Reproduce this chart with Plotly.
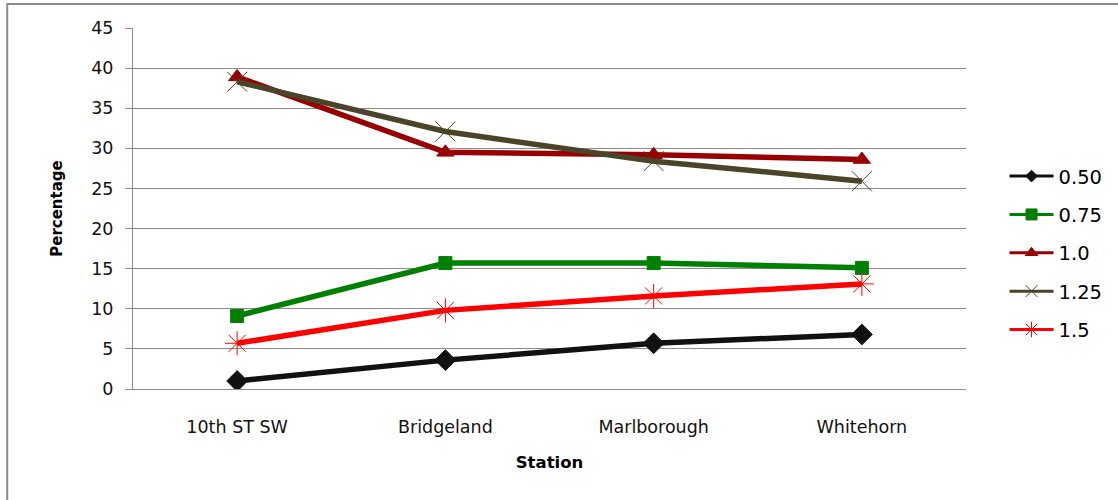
import plotly.graph_objects as go

stations = ["10th ST SW", "Bridgeland", "Marlborough", "Whitehorn"]
series_names = ["0.50", "0.75", "1.0", "1.25", "1.5"]
v050 = [1.0, 3.6, 5.7, 6.8]
v075 = [9.1, 15.7, 15.7, 15.1]
v100 = [38.9, 29.5, 29.2, 28.6]
v125 = [38.3, 32.1, 28.4, 25.9]
v150 = [5.7, 9.8, 11.6, 13.1]
y_ticks = [0, 5, 10, 15, 20, 25, 30, 35, 40, 45]

values = [v050, v075, v100, v125, v150]
colors = ["#111111", "#008000", "#990000", "#4A4429", "#FF0000"]
symbols = ["diamond", "square", "triangle-up", "x-thin-open", "asterisk-open"]
msizes = [16, 13, 15, 20, 20]
mline_colors = ["#111111", "#008000", "#990000", "#7F7F6A", "#FF4040"]
leg_sizes = [9, 11, 11, 12, 13]

FONT = "DejaVu Sans"
fig = go.Figure()
order = [0, 1, 4, 2, 3]
for i in order:
    fig.add_trace(go.Scatter(
        x=[0, 1, 2, 3], y=values[i], mode="lines+markers",
        line=dict(color=colors[i], width=5.5),
        marker=dict(symbol=symbols[i], size=msizes[i], color=colors[i],
                    line=dict(color=mline_colors[i], width=1)),
        showlegend=False, name=series_names[i]))
for i in range(5):
    fig.add_trace(go.Scatter(
        x=[None], y=[None], mode="lines+markers", name=series_names[i],
        line=dict(color=colors[i], width=3),
        marker=dict(symbol=symbols[i], size=leg_sizes[i], color=colors[i],
                    line=dict(color=mline_colors[i], width=1)),
        legendgroup=series_names[i], showlegend=True))

fig.update_layout(
    width=1118, height=500,
    margin=dict(l=133, r=151, t=28, b=111),
    paper_bgcolor="white", plot_bgcolor="white",
    font=dict(family=FONT, color="#000000"),
    xaxis=dict(range=[-0.5, 3.5], tickmode="array", tickvals=[0, 1, 2, 3],
               ticktext=stations, showgrid=False, zeroline=False,
               showline=True, linecolor="#8C8C8C", linewidth=1,
               ticks="", tickfont=dict(size=17.5, color="#111"),
               ticklabelstandoff=22,
               title=dict(text="<b>Station</b>", font=dict(size=16.5), standoff=20)),
    yaxis=dict(range=[0, 45], tickmode="array", tickvals=y_ticks,
               showgrid=True, gridcolor="#8C8C8C", gridwidth=1,
               zeroline=False, showline=True, linecolor="#8C8C8C", linewidth=1,
               ticks="outside", ticklen=7, tickcolor="#8C8C8C",
               tickfont=dict(size=17.5, color="#111"), ticklabelstandoff=8,
               title=dict(text="<b>Percentage</b>", font=dict(size=15), standoff=24)),
    legend=dict(x=1.045, y=0.377, xanchor="left", yanchor="middle",
                font=dict(size=19.5, family=FONT), tracegroupgap=10,
                itemwidth=44, bgcolor="rgba(0,0,0,0)"),
    shapes=[dict(type="rect", xref="paper", yref="paper",
                 x0=-0.151, x1=1.3, y0=-0.4, y1=1.0665,
                 line=dict(color="#8C8C8C", width=2), layer="below")],
)
fig.write_html("out.html")
